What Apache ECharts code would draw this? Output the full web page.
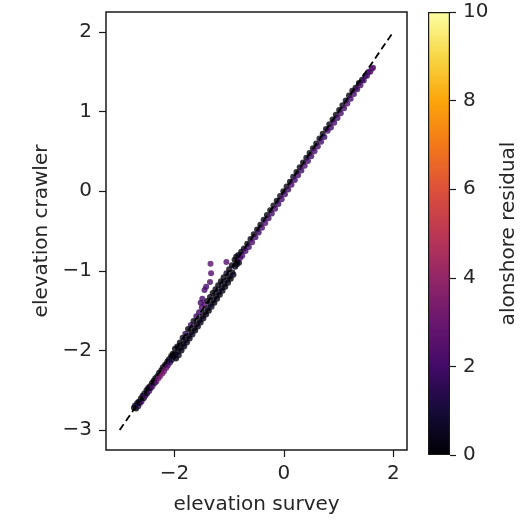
<!DOCTYPE html>
<html>
<head>
<meta charset="utf-8">
<script src="https://cdn.jsdelivr.net/npm/echarts@6/dist/echarts.min.js"></script>
<style>html,body{margin:0;padding:0;background:#fff;}#c{width:528px;height:520px;}</style>
</head>
<body>
<div id="c"></div>
<script>
// [elevation survey, elevation crawler, alongshore residual]
const lowerReach = [
  [-2.74,-2.72,0.2],[-2.72,-2.69,0.5],[-2.70,-2.73,0.1],[-2.68,-2.66,0.3],[-2.66,-2.70,1.2],[-2.65,-2.64,0.2],
  [-2.63,-2.66,0.4],[-2.61,-2.60,0.1],[-2.60,-2.64,1.8],[-2.58,-2.57,0.3],[-2.56,-2.60,0.2],[-2.55,-2.54,0.6],
  [-2.53,-2.57,2.1],[-2.51,-2.50,0.2],[-2.50,-2.54,0.4],[-2.48,-2.47,0.1],[-2.46,-2.51,1.9],[-2.45,-2.45,0.3],
  [-2.43,-2.47,0.5],[-2.41,-2.41,0.2],[-2.40,-2.45,2.3],[-2.38,-2.38,0.1],[-2.36,-2.41,0.7],[-2.35,-2.35,0.2],
  [-2.33,-2.39,2.6],[-2.31,-2.32,0.4],[-2.29,-2.35,3.1],[-2.28,-2.28,0.2],[-2.26,-2.32,3.3],[-2.24,-2.25,0.3],
  [-2.22,-2.29,3.4],[-2.21,-2.21,0.1],[-2.19,-2.26,3.2],[-2.17,-2.18,0.5],[-2.15,-2.22,2.9],[-2.13,-2.14,0.2],
  [-2.12,-2.19,2.4],[-2.10,-2.11,0.3],[-2.08,-2.15,1.6],[-2.06,-2.07,0.2],[-2.05,-2.12,0.8],[-2.03,-2.04,0.1],
  [-2.01,-2.08,0.4]
];
const middleReach = [
  [-1.99,-1.98,0.2],[-1.98,-2.05,0.3],[-1.97,-2.10,0.1],[-1.95,-1.95,0.4],[-1.94,-2.02,0.2],[-1.92,-2.06,0.6],
  [-1.90,-1.90,0.1],[-1.89,-1.97,0.3],[-1.87,-2.00,0.2],[-1.85,-1.84,0.5],[-1.84,-1.92,0.1],[-1.82,-1.95,0.3],
  [-1.80,-1.79,1.7],[-1.79,-1.87,0.2],[-1.77,-1.90,0.4],[-1.75,-1.73,0.1],[-1.74,-1.82,0.3],[-1.72,-1.85,0.2],
  [-1.70,-1.68,1.9],[-1.69,-1.77,0.1],[-1.67,-1.80,0.5],[-1.65,-1.63,0.2],[-1.64,-1.72,0.3],[-1.62,-1.75,0.1],
  [-1.60,-1.57,2.0],[-1.59,-1.67,0.2],[-1.57,-1.70,0.4],[-1.55,-1.52,1.8],[-1.54,-1.62,0.1],[-1.52,-1.65,0.3],
  [-1.50,-1.46,2.2],[-1.49,-1.57,0.2],[-1.47,-1.60,0.5],[-1.45,-1.42,2.4],[-1.44,-1.52,0.1],[-1.42,-1.55,0.3],
  [-1.40,-1.38,0.2],[-1.39,-1.47,0.4],[-1.37,-1.50,0.1],[-1.35,-1.33,0.3],[-1.34,-1.42,0.2],[-1.32,-1.45,0.6],
  [-1.30,-1.28,0.1],[-1.29,-1.37,0.3],[-1.27,-1.40,0.2],[-1.25,-1.23,0.4],[-1.24,-1.32,0.1],[-1.22,-1.35,0.3],
  [-1.20,-1.18,0.2],[-1.19,-1.27,0.5],[-1.17,-1.30,0.1],[-1.15,-1.13,0.3],[-1.14,-1.22,0.2],[-1.12,-1.25,0.4],
  [-1.10,-1.08,0.1],[-1.09,-1.17,0.3],[-1.07,-1.20,0.2],[-1.05,-1.03,0.6],[-1.04,-1.12,0.1],[-1.02,-1.15,0.3],
  [-1.00,-0.98,0.2],[-0.99,-1.07,0.4],[-0.97,-1.10,0.1],[-0.95,-0.93,0.3],[-0.94,-1.02,0.2],[-0.92,-1.05,0.5],
  [-0.90,-0.86,0.1],[-0.89,-0.95,0.3],[-0.87,-0.82,0.2],[-0.86,-0.92,0.4],[-0.85,-0.88,0.1],[-0.83,-0.80,0.3],
  [-0.82,-0.90,0.2],[-0.80,-0.84,1.9],[-0.78,-0.76,0.1]
];
const offsetHook = [
  [-1.34,-0.91,2.5],[-1.33,-1.03,2.4],[-1.35,-1.14,2.3],[-1.45,-1.24,2.2],[-1.49,-1.35,2.1],
  [-1.05,-0.89,2.4],[-1.42,-1.20,2.0],[-1.52,-1.40,1.9]
];
const upperReach = [
  [-0.76,-0.81,2.0],[-0.73,-0.72,0.3],[-0.70,-0.75,2.1],[-0.67,-0.66,0.2],[-0.64,-0.70,1.9],[-0.61,-0.60,0.4],
  [-0.58,-0.64,2.2],[-0.55,-0.54,0.1],[-0.52,-0.58,2.0],[-0.49,-0.48,0.3],[-0.46,-0.52,1.8],[-0.43,-0.42,0.2],
  [-0.40,-0.46,2.1],[-0.37,-0.36,0.5],[-0.34,-0.40,2.3],[-0.31,-0.30,0.2],[-0.28,-0.34,1.9],[-0.25,-0.24,0.1],
  [-0.22,-0.28,2.0],[-0.19,-0.18,0.3],[-0.16,-0.22,2.2],[-0.13,-0.12,0.2],[-0.10,-0.16,1.8],[-0.07,-0.06,0.4],
  [-0.04,-0.10,2.1],[-0.01,0.00,0.1],[0.02,-0.04,2.0],[0.05,0.06,0.3],[0.08,0.02,1.9],[0.11,0.12,0.2],
  [0.14,0.08,2.2],[0.17,0.18,0.5],[0.20,0.14,2.0],[0.23,0.24,0.1],[0.26,0.20,2.1],[0.29,0.30,0.3],
  [0.32,0.26,1.8],[0.35,0.36,0.2],[0.38,0.32,2.3],[0.41,0.42,0.4],[0.44,0.38,2.0],[0.47,0.48,0.1],
  [0.50,0.44,1.9],[0.53,0.54,0.3],[0.56,0.50,2.2],[0.59,0.60,0.2],[0.62,0.56,2.0],[0.65,0.66,0.5],
  [0.68,0.62,2.1],[0.71,0.72,0.1],[0.74,0.68,1.8],[0.77,0.78,0.3],[0.80,0.76,2.2],[0.83,0.84,0.2],
  [0.86,0.80,2.0],[0.89,0.90,0.4],[0.92,0.86,2.1],[0.95,0.96,0.1],[0.98,0.92,1.9],[1.01,1.02,0.3],
  [1.04,0.98,2.2],[1.07,1.08,0.2],[1.10,1.04,2.0],[1.13,1.14,0.5],[1.16,1.10,2.3],[1.19,1.20,0.1],
  [1.22,1.16,2.0],[1.25,1.26,0.3],[1.28,1.22,2.1],[1.31,1.30,0.2],[1.34,1.28,1.9],[1.37,1.36,0.4],
  [1.40,1.33,2.2],[1.43,1.40,0.2],[1.46,1.39,2.0],[1.49,1.45,1.1],[1.52,1.45,2.1],[1.55,1.50,1.6],
  [1.58,1.50,2.3],[1.61,1.54,2.4],[1.63,1.55,2.5]
];
const oneToOneEnds = [-3, 2];
const axisRange = [-3.25, 2.25];
const xTicks = [-2, 0, 2];
const yTicks = [-3, -2, -1, 0, 1, 2];
const residualRange = [0, 10];
const residualTicks = [0, 2, 4, 6, 8, 10];
const infernoStops = ['#000004','#160b39','#420a68','#6a176e','#932667','#bc3754','#dd513a','#f37819','#fca50a','#f6d746','#fcffa4'];

const FONT = 'DejaVu Sans';
const TXT = '#262626';
const FS = 20;
const fmt = v => String(v).replace('-', '\u2212');
const points = lowerReach.concat(middleReach, offsetHook, upperReach);

const chart = echarts.init(document.getElementById('c'), null, {renderer: 'canvas'});
chart.setOption({
  animation: false,
  backgroundColor: '#fff',
  textStyle: {fontFamily: FONT},
  grid: [
    {left: 106, top: 12, width: 301, height: 443, show: true, borderColor: '#1a1a1a', borderWidth: 1.5, backgroundColor: 'transparent'},
    {left: 428, top: 12, width: 22, height: 443, show: false}
  ],
  xAxis: [
    {type: 'value', gridIndex: 0, min: axisRange[0], max: axisRange[1],
     name: 'elevation survey', nameLocation: 'middle', nameGap: 45,
     nameTextStyle: {fontSize: FS, color: TXT, fontFamily: FONT},
     axisLine: {show: false, onZero: false}, splitLine: {show: false},
     axisTick: {show: true, length: 7, lineStyle: {color: '#1a1a1a', width: 1.2}, customValues: xTicks},
     axisLabel: {fontSize: FS, color: TXT, margin: 14, fontFamily: FONT, formatter: fmt, customValues: xTicks}},
    {type: 'category', gridIndex: 1, data: [''], show: false}
  ],
  yAxis: [
    {type: 'value', gridIndex: 0, min: axisRange[0], max: axisRange[1],
     name: 'elevation crawler', nameLocation: 'middle', nameGap: 54, nameRotate: 90,
     nameTextStyle: {fontSize: FS, color: TXT, fontFamily: FONT},
     axisLine: {show: false, onZero: false}, splitLine: {show: false},
     axisTick: {show: true, length: 7, lineStyle: {color: '#1a1a1a', width: 1.2}, customValues: yTicks},
     axisLabel: {fontSize: FS, color: TXT, margin: 14, fontFamily: FONT, formatter: fmt, customValues: yTicks}},
    {type: 'value', gridIndex: 1, min: residualRange[0], max: residualRange[1], position: 'right',
     name: 'alonshore residual', nameLocation: 'middle', nameGap: 49, nameRotate: 90,
     nameTextStyle: {fontSize: FS, color: TXT, fontFamily: FONT},
     axisLine: {show: false, onZero: false}, splitLine: {show: false},
     axisTick: {show: true, length: 6, lineStyle: {color: '#1a1a1a', width: 1.2}, customValues: residualTicks},
     axisLabel: {fontSize: FS, color: TXT, margin: 13, fontFamily: FONT, customValues: residualTicks}}
  ],
  visualMap: {
    type: 'continuous', show: false, min: residualRange[0], max: residualRange[1],
    dimension: 2, seriesIndex: 0, inRange: {color: infernoStops}
  },
  series: [
    {type: 'scatter', xAxisIndex: 0, yAxisIndex: 0, data: points, symbol: 'circle', symbolSize: 6, z: 2, silent: true},
    {type: 'line', xAxisIndex: 0, yAxisIndex: 0, data: [[oneToOneEnds[0], oneToOneEnds[0]], [oneToOneEnds[1], oneToOneEnds[1]]],
     symbol: 'none', z: 3, silent: true,
     lineStyle: {color: '#000', width: 1.8, type: [7, 4]}},
    {type: 'bar', xAxisIndex: 1, yAxisIndex: 1, data: [residualRange[1]], barWidth: '100%', silent: true,
     itemStyle: {
       borderColor: '#1a1a1a', borderWidth: 1.2,
       color: new echarts.graphic.LinearGradient(0, 1, 0, 0,
         infernoStops.map((c, i) => ({offset: i / (infernoStops.length - 1), color: c})))
     }}
  ]
});
</script>
</body>
</html>
